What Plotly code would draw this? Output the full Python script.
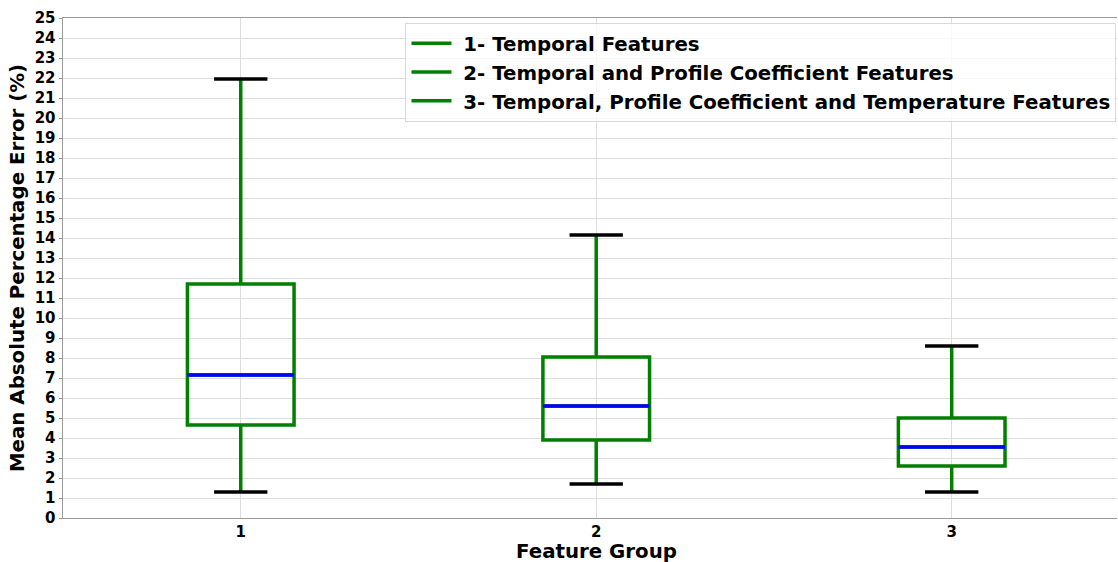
import plotly.graph_objects as go

groups = [1, 2, 3]
lower_whisker = [1.3, 1.7, 1.3]
q1 = [4.65, 3.9, 2.6]
median = [7.15, 5.6, 3.55]
q3 = [11.7, 8.05, 5.0]
upper_whisker = [21.95, 14.15, 8.6]
legend_labels = [
    "1- Temporal Features",
    "2- Temporal and Profile Coefficient Features",
    "3- Temporal, Profile Coefficient and Temperature Features",
]
y_ticks = list(range(0, 26))

BOX_W = 0.3
CAP_W = 0.15
GREEN = "#008000"
FONT = "DejaVu Sans"

fig = go.Figure()

for i, g in enumerate(groups):
    fig.add_trace(go.Box(
        x=[g], q1=[q1[i]], median=[median[i]], q3=[q3[i]],
        lowerfence=[lower_whisker[i]], upperfence=[upper_whisker[i]],
        width=BOX_W, whiskerwidth=0,
        line=dict(color=GREEN, width=3.5),
        fillcolor="rgba(0,0,0,0)", showlegend=False, boxpoints=False,
    ))
    # median line
    fig.add_trace(go.Scatter(
        x=[g - BOX_W / 2, g + BOX_W / 2], y=[median[i], median[i]],
        mode="lines", line=dict(color="#0000ff", width=3.5), showlegend=False,
    ))
    # caps
    for v in (lower_whisker[i], upper_whisker[i]):
        fig.add_trace(go.Scatter(
            x=[g - CAP_W / 2, g + CAP_W / 2], y=[v, v],
            mode="lines", line=dict(color="black", width=3.5), showlegend=False,
        ))

for lab in legend_labels:
    fig.add_trace(go.Scatter(
        x=[None], y=[None], mode="lines", name="\u00a0" + lab,
        line=dict(color=GREEN, width=3.5),
    ))

fig.update_layout(
    width=1118, height=562,
    margin=dict(l=63, r=1, t=18, b=44),
    paper_bgcolor="white", plot_bgcolor="white",
    font=dict(family=FONT, color="black", size=15),
    legend=dict(
        x=0.9995, xanchor="right", y=0.99, yanchor="top",
        bgcolor="rgba(255,255,255,0.8)", bordercolor="#d9d9d9", borderwidth=1,
        font=dict(family=FONT, size=19.8, color="black", weight="bold"),
        itemwidth=40, tracegroupgap=0,
    ),
    annotations=[dict(
        text="Feature Group", xref="x", x=groups[1], yref="paper", y=-0.066,
        xanchor="center", yanchor="middle", showarrow=False,
        font=dict(family=FONT, size=19.8, weight="bold", color="black"),
    )],
)

fig.update_xaxes(
    range=[0.5, 3.465], tickvals=groups, ticktext=[str(g) for g in groups],
    showgrid=True, gridcolor="#dddddd", gridwidth=1,
    showline=True, linecolor="#9a9a9a", linewidth=1, mirror=True,
    ticks="", 
    tickfont=dict(family=FONT, size=15, weight="bold"),
    zeroline=False, automargin=False,
)
fig.update_yaxes(
    range=[0, 25], tickvals=y_ticks,
    showgrid=True, gridcolor="#dddddd", gridwidth=1,
    showline=True, linecolor="#9a9a9a", linewidth=1, mirror=False,
    ticks="outside", ticklen=3.5, tickcolor="#9a9a9a",
    tickfont=dict(family=FONT, size=15, weight="bold"),
    title=dict(text="Mean Absolute Percentage Error (%)", font=dict(family=FONT, size=19.8, weight="bold"), standoff=4),
    zeroline=False, automargin=False,
)

fig.write_html(
    "out.html",
    config={"displayModeBar": False},
    post_script="document.body.style.margin='0';document.body.style.overflow='hidden';",
)
